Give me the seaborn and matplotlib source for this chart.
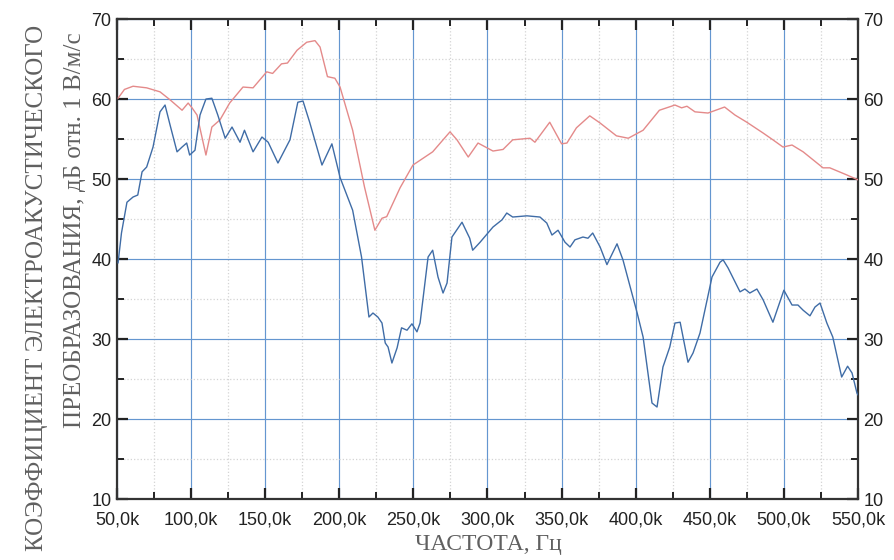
import matplotlib
matplotlib.use("Agg")
import matplotlib.pyplot as plt
from matplotlib.ticker import MultipleLocator, FuncFormatter
import seaborn as sns
import pandas as pd

# Frequency, kHz / sensitivity, dB re 1 V/(m/s)
upper_freq = [50.7, 55, 60.8, 70, 79, 85.8, 93.9, 98, 100.6, 104, 110, 114, 119.5,
              126, 135, 141.8, 151, 155, 161, 165, 171.5, 178, 183.6, 187, 192, 197,
              200.5, 209, 217, 224, 228.8, 232, 241, 249.7, 263, 270, 274.7, 279.4,
              287, 293.6, 303.7, 310.5, 317, 328.7, 332, 342, 350, 353.6, 360, 369,
              376, 387, 395, 405, 416, 426.5, 431, 434.6, 440, 448.8, 460, 467, 475,
              486, 492.6, 499.4, 505.5, 513, 526.4, 531, 542.6, 550]
upper_db = [60.1, 61.2, 61.6, 61.4, 60.9, 59.9, 58.6, 59.5, 58.9, 58.0, 53.0, 56.5, 57.4,
            59.5, 61.5, 61.4, 63.4, 63.2, 64.4, 64.5, 66.1, 67.1, 67.3, 66.5, 62.8, 62.6,
            61.5, 56.1, 49.0, 43.6, 45.1, 45.3, 48.9, 51.75, 53.4, 54.9, 55.9, 54.9,
            52.75, 54.5, 53.5, 53.7, 54.9, 55.1, 54.6, 57.1, 54.4, 54.5, 56.4, 57.9,
            57.0, 55.4, 55.1, 56.1, 58.6, 59.25, 58.9, 59.1, 58.4, 58.25, 59.0, 58.0, 57.1,
            55.75, 54.9, 54.0, 54.25, 53.4, 51.4, 51.4, 50.5, 49.9]

lower_freq = [50.7, 53, 56.7, 60.8, 64, 66.9, 70, 74.3, 79, 82.4, 85.8, 90.5, 93.9, 97,
              99, 102.6, 106, 110, 114, 118, 123, 127.6, 133, 136, 141.8, 147.8, 152,
              158.6, 166.7, 172, 175.5, 180, 188.3, 195, 200.5, 209, 215, 220, 222.7,
              226, 228.8, 231, 232.9, 235.5, 239, 242, 245.7, 249, 252.4, 254.5, 259.9,
              263, 266.6, 270, 272.7, 276, 282.8, 288, 290, 295, 303.7, 309.8, 313, 317,
              326.6, 335.4, 340, 343.5, 347.6, 352.3, 355.7, 359, 364.4, 367.8, 371, 376,
              380.6, 387.4, 391.4, 401, 405, 411, 414.4, 418.4, 423, 426.5, 430, 435.3,
              438.7, 443.4, 451.5, 456.9, 459, 462.3, 470.4, 473.7, 477, 481.8, 486,
              492.6, 500, 505.5, 509.5, 513, 517.6, 521, 524.4, 529, 533, 539, 543, 546,
              549.3, 550]
lower_db = [39.5, 43.25, 47.1, 47.75, 48.0, 50.9, 51.5, 54.0, 58.4, 59.25, 56.75, 53.4, 54.0,
            54.5, 53.0, 53.6, 58.0, 60.0, 60.1, 58.0, 55.1, 56.5, 54.6, 56.1, 53.4, 55.25,
            54.6, 52.0, 54.9, 59.6, 59.75, 57.1, 51.75, 54.4, 50.2, 46.1, 40.25, 32.75,
            33.25, 32.75, 32.0, 29.5, 29.0, 27.0, 28.9, 31.4, 31.1, 31.9, 30.9, 32.0, 40.25,
            41.1, 37.75, 35.75, 37.0, 42.75, 44.6, 42.6, 41.1, 42.1, 44.0, 44.9, 45.75,
            45.25, 45.4, 45.25, 44.5, 43.0, 43.6, 42.1, 41.5, 42.4, 42.75, 42.6, 43.25,
            41.5, 39.3, 41.9, 39.9, 33.25, 30.25, 22.0, 21.5, 26.5, 29.0, 32.0, 32.1, 27.1,
            28.25, 30.75, 37.75, 39.6, 39.9, 38.9, 35.9, 36.25, 35.75, 36.25, 34.9, 32.1,
            36.1, 34.25, 34.25, 33.6, 32.9, 34.0, 34.5, 32.0, 30.25, 25.25, 26.6, 25.75,
            23.25, 23.0]

x_ticks = [50, 100, 150, 200, 250, 300, 350, 400, 450, 500, 550]
y_ticks = [10, 20, 30, 40, 50, 60, 70]

sns.set_style("white")
plt.rcParams["font.family"] = ["Liberation Sans", "DejaVu Sans"]

fig = plt.figure(figsize=(8.94, 5.6), dpi=100)
ax = fig.add_axes([0.1309, 0.1089, 0.9597 - 0.1309, 0.966 - 0.1089])

upper = pd.DataFrame({"f": upper_freq, "db": upper_db})
lower = pd.DataFrame({"f": lower_freq, "db": lower_db})
sns.lineplot(data=upper, x="f", y="db", color="#e48a8a", lw=1.0, ax=ax,
             estimator=None, zorder=3)
sns.lineplot(data=lower, x="f", y="db", color="#3f6ca6", lw=1.0, ax=ax,
             estimator=None, zorder=3)

ax.set_xlim(50, 550)
ax.set_ylim(10, 70)
ax.set_xticks(x_ticks)
ax.set_yticks(y_ticks)
ax.xaxis.set_minor_locator(MultipleLocator(25))
ax.yaxis.set_minor_locator(MultipleLocator(5))
ax.xaxis.set_major_formatter(FuncFormatter(lambda v, p: f"{v:.1f}k".replace(".", ",")))

ax.grid(which="major", color="#6496d0", lw=0.85, ls="-", zorder=1)
ax.grid(which="minor", color="#d4d4d4", lw=0.9, ls=":", zorder=1)
ax.set_axisbelow(True)

ax.tick_params(which="both", direction="in", top=True, right=True,
               bottom=True, left=True, labelright=True, color="#222222")
ax.tick_params(which="major", length=8, width=1.6, labelsize=13, pad=4,
               labelcolor="#222222")
ax.tick_params(axis="x", which="major", pad=9)
ax.tick_params(which="minor", length=5, width=1.4)
for side in ax.spines.values():
    side.set_color("#333333")
    side.set_linewidth(1.6)

serif = ["Liberation Serif", "DejaVu Serif"]
ax.set_xlabel("")
ax.set_ylabel("")
fig.text(0.546, 0.027, "ЧАСТОТА, Гц", ha="center", va="center",
         family=serif, fontsize=17, color="#606060")
fig.text(0.0414, 0.9554, "КОЭФФИЦИЕНТ ЭЛЕКТРОАКУСТИЧЕСКОГО", rotation=90,
         ha="center", va="top", family=serif, fontsize=18, color="#606060")
fig.text(0.0839, 0.943, "ПРЕОБРАЗОВАНИЯ, дБ отн. 1 В/м/с", rotation=90,
         ha="center", va="top", family=serif, fontsize=18, color="#606060")

fig.savefig("out.png", dpi=100)
